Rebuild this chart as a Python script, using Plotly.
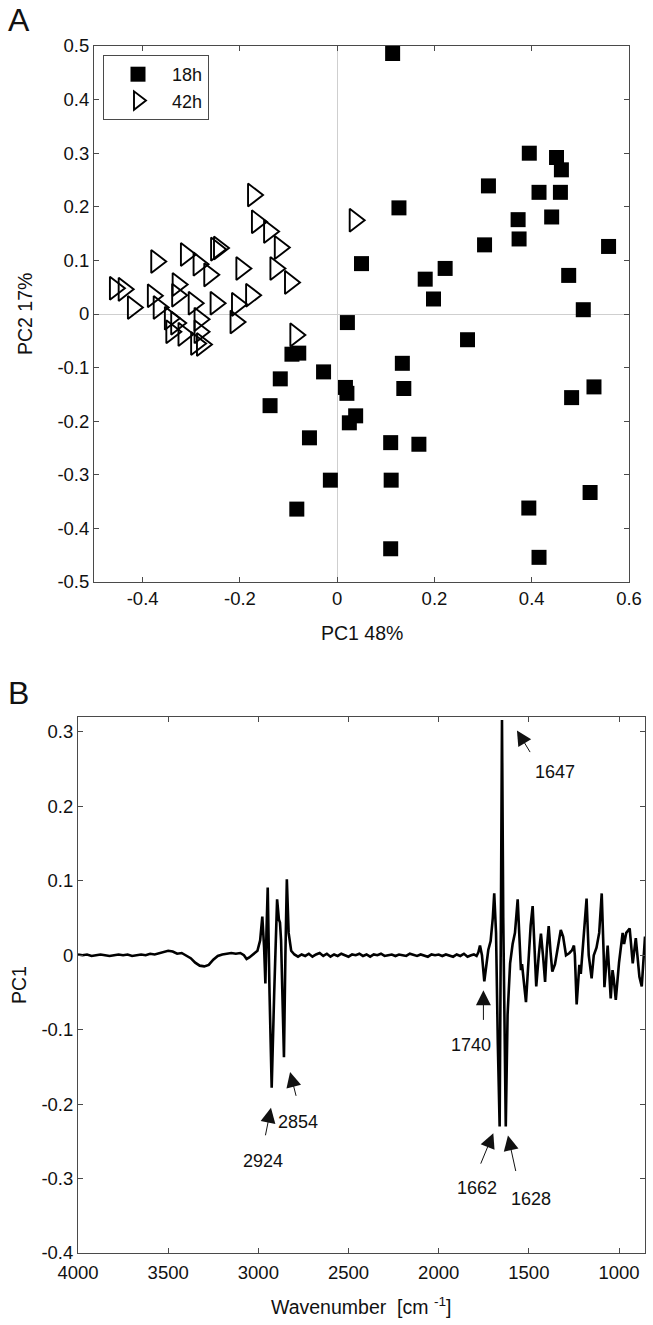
import plotly.graph_objects as go

W, H = 653, 1325

# ---------------- Panel A data (PC scores) ----------------
pc1_18h = [0.114, 0.395, 0.451, 0.461, 0.311, 0.415, 0.459, 0.127, 0.372, 0.441,
           0.374, 0.303, 0.558, 0.050, 0.222, 0.181, 0.476, 0.198, 0.506, 0.021,
           0.268, 0.134, -0.028, 0.017, 0.020, 0.137, 0.528, 0.482, 0.038, 0.025,
           0.110, 0.168, -0.014, 0.111, 0.520, 0.394, 0.110, 0.415,
           -0.093, -0.079, -0.117, -0.138, -0.057, -0.083]
pc2_18h = [0.486, 0.300, 0.292, 0.269, 0.239, 0.227, 0.227, 0.198, 0.176, 0.181,
           0.140, 0.129, 0.126, 0.094, 0.085, 0.065, 0.072, 0.028, 0.008, -0.016,
           -0.048, -0.092, -0.108, -0.137, -0.148, -0.139, -0.136, -0.156, -0.190, -0.203,
           -0.240, -0.243, -0.310, -0.310, -0.333, -0.362, -0.438, -0.454,
           -0.075, -0.073, -0.121, -0.171, -0.231, -0.364]

pc1_42h = [-0.173, -0.165, -0.140, -0.118, -0.249, -0.243, -0.311, -0.372, -0.285, -0.197,
           -0.127, -0.263, -0.097, -0.328, -0.457, -0.439, -0.379, -0.329, -0.177,
           -0.295, -0.250, -0.206, -0.420, -0.367, -0.344, -0.283, -0.209, -0.331,
           -0.341, -0.283, -0.316, -0.086, -0.290, -0.278, 0.036]
pc2_42h = [0.222, 0.172, 0.154, 0.124, 0.121, 0.123, 0.111, 0.098, 0.093, 0.085,
           0.085, 0.073, 0.059, 0.055, 0.048, 0.046, 0.034, 0.035, 0.035,
           0.020, 0.020, 0.018, 0.012, 0.012, -0.008, -0.010, -0.015, -0.017,
           -0.033, -0.033, -0.038, -0.039, -0.055, -0.057, 0.175]

# ---------------- Panel B data (PC1 loading spectrum) ----------------
wavenumber = [4000, 3975, 3950, 3925, 3900, 3875, 3850, 3825, 3800, 3775, 3750, 3725, 3700,
              3675, 3650, 3625, 3600, 3575, 3550, 3525, 3500, 3475, 3450, 3425, 3400, 3375,
              3350, 3325, 3300, 3275, 3250, 3225, 3200, 3175, 3150, 3125, 3100, 3080, 3065,
              3050, 3035, 3020, 3005, 2990, 2978, 2968, 2961, 2955, 2948, 2938, 2926, 2912,
              2896, 2886, 2880, 2874, 2866, 2858, 2850, 2842, 2832, 2818, 2800, 2780, 2760,
              2740, 2720, 2700, 2680, 2660, 2640, 2620, 2600, 2580, 2560, 2540, 2520, 2500,
              2480, 2460, 2440, 2420, 2400, 2380, 2360, 2340, 2320, 2300, 2280, 2260, 2240,
              2220, 2200, 2180, 2160, 2140, 2120, 2100, 2080, 2060, 2040, 2020, 2000, 1980,
              1960, 1940, 1920, 1900, 1880, 1860, 1840, 1820, 1805, 1790, 1780, 1771, 1760,
              1747, 1735, 1725, 1712, 1700, 1692, 1682, 1672, 1662, 1655, 1649, 1642, 1636,
              1628, 1618, 1604, 1590, 1577, 1562, 1552, 1544, 1538, 1530, 1516, 1500, 1490,
              1479, 1468, 1459, 1445, 1433, 1420, 1410, 1400, 1390, 1380, 1370, 1355, 1340,
              1323, 1310, 1294, 1275, 1260, 1250, 1245, 1235, 1220, 1212, 1200, 1190, 1180,
              1168, 1152, 1140, 1125, 1110, 1096, 1085, 1081, 1063, 1046, 1036, 1030, 1018,
              1000, 980, 972, 960, 941, 924, 907, 887, 874, 856]
pc1_loading = [0.001, 0.000, 0.001, -0.001, 0.000, 0.001, 0.000, -0.001, 0.000, 0.001, 0.000, 0.001, -0.001,
               0.000, 0.001, 0.000, 0.002, 0.001, 0.003, 0.004, 0.006, 0.005, 0.002, 0.003, 0.000, -0.004,
               -0.010, -0.014, -0.015, -0.013, -0.006, -0.001, 0.001, 0.002, 0.003, 0.002, 0.003, 0.000, -0.005,
               -0.003, 0.000, 0.002, 0.006, 0.020, 0.052, 0.010, -0.038, 0.030, 0.091, -0.050, -0.178, -0.050,
               0.075, 0.048, 0.044, 0.020, -0.050, -0.137, 0.000, 0.102, 0.030, 0.006, 0.001, -0.002, 0.001,
               -0.001, 0.002, -0.002, 0.001, 0.003, -0.001, 0.002, -0.002, 0.001, -0.001, 0.002, 0.000, -0.002,
               0.001, 0.000, 0.002, -0.001, 0.001, -0.002, 0.001, 0.000, 0.002, -0.001, 0.000, 0.001, -0.001,
               0.001, 0.000, -0.001, 0.002, 0.000, -0.001, 0.001, 0.000, -0.002, 0.001, 0.000, 0.001, -0.001,
               0.001, 0.000, -0.002, 0.001, -0.001, 0.002, -0.002, 0.000, 0.001, -0.001, 0.004, 0.013, 0.000,
               -0.035, -0.010, 0.007, 0.019, 0.050, 0.083, 0.030, -0.120, -0.230, 0.050, 0.316, 0.050, -0.120,
               -0.230, -0.080, -0.011, 0.015, 0.030, 0.075, 0.010, -0.020, -0.012, -0.030, -0.063, 0.000, 0.040,
               0.066, 0.000, -0.042, 0.000, 0.029, -0.005, -0.036, 0.010, 0.039, 0.005, -0.022, -0.012, 0.010,
               0.034, 0.025, 0.000, 0.003, 0.007, 0.013, 0.000, -0.066, -0.013, -0.025, 0.010, 0.040, 0.076,
               0.000, -0.031, 0.000, 0.010, 0.030, 0.083, 0.000, -0.043, 0.013, -0.058, -0.020, -0.030, -0.060,
               -0.010, 0.030, 0.015, 0.030, 0.036, -0.011, 0.023, -0.029, -0.042, 0.025]

peak_labels = ["2924", "2854", "1740", "1662", "1628", "1647"]

x_ticks_a = [-0.4, -0.2, 0, 0.2, 0.4, 0.6]
y_ticks_a = [-0.5, -0.4, -0.3, -0.2, -0.1, 0, 0.1, 0.2, 0.3, 0.4, 0.5]
x_ticks_b = [4000, 3500, 3000, 2500, 2000, 1500, 1000]
y_ticks_b = [-0.4, -0.3, -0.2, -0.1, 0, 0.1, 0.2, 0.3]


def fmt(v):
    return "%g" % v


FONT = "Liberation Sans, Arial, Helvetica, sans-serif"
AXC = "#4a4a4a"
TICK_SIZE = 18.5
TITLE_SIZE = 19.5

fig = go.Figure()

fig.add_trace(go.Scatter(
    x=pc1_18h, y=pc2_18h, mode="markers", name="18h",
    marker=dict(symbol="square", size=15, color="black", line=dict(width=0)),
    xaxis="x", yaxis="y"))
fig.add_trace(go.Scatter(
    x=pc1_42h, y=pc2_42h, mode="markers", name="42h",
    marker=dict(symbol="triangle-right-open", size=20, color="black",
                line=dict(width=1.9, color="black")),
    xaxis="x", yaxis="y"))
fig.add_trace(go.Scatter(
    x=wavenumber, y=pc1_loading, mode="lines", showlegend=False,
    line=dict(color="black", width=2.6),
    xaxis="x2", yaxis="y2"))

common_axis = dict(showline=True, linecolor=AXC, linewidth=1, mirror="ticks",
                   ticks="inside", ticklen=5, tickcolor=AXC, tickwidth=1,
                   showgrid=False, tickfont=dict(family=FONT, size=TICK_SIZE, color="#111"),
                   ticklabeloverflow="allow", automargin=False)

fig.update_layout(
    width=W, height=H,
    margin=dict(l=0, r=0, t=0, b=0),
    paper_bgcolor="white", plot_bgcolor="white",
    font=dict(family=FONT, size=TICK_SIZE, color="#111"),
    showlegend=True,
    legend=dict(x=103 / W, y=1 - 55 / H, xanchor="left", yanchor="top",
                bordercolor=AXC, borderwidth=1, bgcolor="white",
                font=dict(family=FONT, size=18, color="#111"),
                itemwidth=58, tracegroupgap=0),
    xaxis=dict(domain=[94 / W, 629 / W], range=[-0.5, 0.6], anchor="y",
               tickvals=x_ticks_a, ticktext=[fmt(v) for v in x_ticks_a],
               zeroline=True, zerolinecolor="#cfcfcf", zerolinewidth=1, **common_axis),
    yaxis=dict(domain=[1 - 582 / H, 1 - 46 / H], range=[-0.5, 0.5], anchor="x",
               tickvals=y_ticks_a, ticktext=[fmt(v) for v in y_ticks_a],
               zeroline=True, zerolinecolor="#cfcfcf", zerolinewidth=1, **common_axis),
    xaxis2=dict(domain=[78 / W, 645 / W], range=[4000, 856], anchor="y2",
                tickvals=x_ticks_b, ticktext=[fmt(v) for v in x_ticks_b],
                zeroline=False, ticklabelstandoff=3, **common_axis),
    yaxis2=dict(domain=[1 - 1253 / H, 1 - 717 / H], range=[-0.4, 0.32], anchor="x2",
                tickvals=y_ticks_b, ticktext=[fmt(v) for v in y_ticks_b],
                zeroline=False, **common_axis),
)

ann = []
# Panel letters and axis titles (paper coordinates)
ann.append(dict(text="A", x=6 / W, y=1 - 20 / H, xref="paper", yref="paper",
                xanchor="left", yanchor="middle", showarrow=False,
                font=dict(family=FONT, size=32, color="#111")))
ann.append(dict(text="B", x=6 / W, y=1 - 693 / H, xref="paper", yref="paper",
                xanchor="left", yanchor="middle", showarrow=False,
                font=dict(family=FONT, size=32, color="#111")))
ann.append(dict(text="PC1 48%", x=362 / W, y=1 - 633 / H, xref="paper", yref="paper",
                xanchor="center", yanchor="middle", showarrow=False,
                font=dict(family=FONT, size=TITLE_SIZE, color="#111")))
ann.append(dict(text="PC2 17%", x=25 / W, y=1 - 314 / H, xref="paper", yref="paper",
                xanchor="center", yanchor="middle", showarrow=False, textangle=-90,
                font=dict(family=FONT, size=TITLE_SIZE, color="#111")))
ann.append(dict(text="PC1", x=19 / W, y=1 - 985 / H, xref="paper", yref="paper",
                xanchor="center", yanchor="middle", showarrow=False, textangle=-90,
                font=dict(family=FONT, size=TITLE_SIZE, color="#111")))
ann.append(dict(text="Wavenumber  [cm <sup>-1</sup>]", x=361 / W, y=1 - 1306 / H,
                xref="paper", yref="paper", xanchor="center", yanchor="middle",
                showarrow=False, font=dict(family=FONT, size=TITLE_SIZE, color="#111")))

# Peak arrows: (head x, head y, tail x, tail y, text x, text y) in data units of panel B
arrow_geom = [
    (2930, -0.205, 2974, -0.258, 2974, -0.277),
    (2824, -0.157, 2774, -0.205, 2780, -0.224),
    (1752, -0.047, 1752, -0.103, 1822, -0.121),
    (1697, -0.239, 1789, -0.293, 1789, -0.313),
    (1616, -0.242, 1558, -0.306, 1489, -0.327),
    (1566, 0.302, 1471, 0.264, 1355, 0.246),
]
for lab, (hx, hy, tx, ty, lx, ly) in zip(peak_labels, arrow_geom):
    ann.append(dict(text=" ", x=hx, y=hy, ax=tx, ay=ty, xref="x2", yref="y2",
                    axref="x2", ayref="y2", showarrow=True, arrowhead=2,
                    arrowsize=3, arrowwidth=1, arrowcolor="#111"))
    ann.append(dict(text=lab, x=lx, y=ly, xref="x2", yref="y2", showarrow=False,
                    xanchor="center", yanchor="middle",
                    font=dict(family=FONT, size=18, color="#111")))

fig.update_layout(annotations=ann)

fig.write_html(
    "out.html",
    config={"displayModeBar": False},
    post_script="document.body.style.margin='0';document.body.style.padding='0';"
                "document.body.style.overflow='hidden';"
                "document.documentElement.style.overflow='hidden';",
)
